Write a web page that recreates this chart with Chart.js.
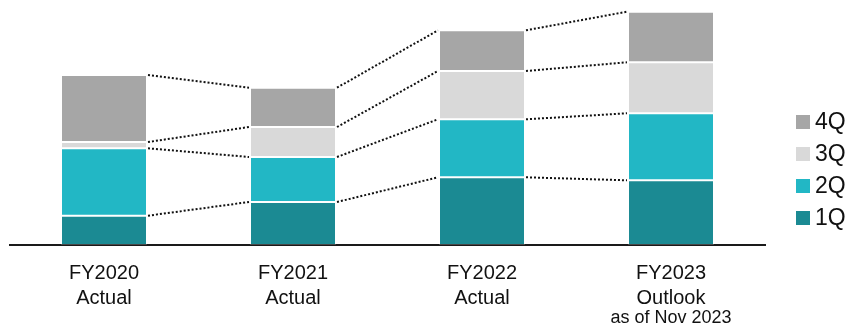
<!DOCTYPE html>
<html>
<head>
<meta charset="utf-8">
<script src="https://cdn.jsdelivr.net/npm/chart.js@4"></script>
<style>
  html, body { margin: 0; padding: 0; background: #fff; }
  #wrap { width: 852px; height: 325px; position: relative; }
</style>
</head>
<body>
<div id="wrap"><canvas id="c" width="852" height="325"></canvas></div>
<script>
// ---- data ----
const categories = [["FY2020", "Actual"], ["FY2021", "Actual"], ["FY2022", "Actual"], ["FY2023", "Outlook"]];
const categoryNotes = ["", "", "", "as of Nov 2023"];
const seriesNames = ["1Q", "2Q", "3Q", "4Q"];
const q1 = [29.3, 43.0, 67.7, 64.7];
const q2 = [67.4, 45.0, 58.0, 67.0];
const q3 = [6.3, 30.0, 48.3, 51.0];
const q4 = [67.0, 39.3, 40.7, 50.6];
const yMax = 240;

const colors = ["#1b8a93", "#22b7c5", "#d9d9d9", "#a6a6a6"];
const FONT = "'Liberation Sans', Arial, sans-serif";

const connectorPlugin = {
  id: 'connectors',
  afterDatasetsDraw(chart) {
    const ctx = chart.ctx;
    ctx.save();
    ctx.strokeStyle = '#111';
    ctx.lineWidth = 2;
    ctx.setLineDash([2, 2]);
    chart.data.datasets.forEach((ds, d) => {
      const els = chart.getDatasetMeta(d).data;
      for (let i = 0; i < els.length - 1; i++) {
        const a = els[i], b = els[i + 1];
        ctx.beginPath();
        ctx.moveTo(a.x + a.width / 2 + 1, a.y);
        ctx.lineTo(b.x - b.width / 2 - 1, b.y);
        ctx.stroke();
      }
    });
    ctx.restore();
  }
};

const legendPlugin = {
  id: 'sideLegend',
  afterDraw(chart) {
    const ctx = chart.ctx;
    ctx.save();
    ctx.font = "23px " + FONT;
    ctx.textBaseline = 'middle';
    ctx.textAlign = 'left';
    const order = [3, 2, 1, 0];
    order.forEach((d, k) => {
      const cy = 122 + k * 32;
      ctx.fillStyle = colors[d];
      ctx.fillRect(796, cy - 7, 14, 14);
      ctx.fillStyle = '#111';
      ctx.fillText(seriesNames[d], 815, cy + 1);
    });
    ctx.restore();
  }
};

const notePlugin = {
  id: 'notes',
  afterDraw(chart) {
    const ctx = chart.ctx;
    const xs = chart.scales.x;
    ctx.save();
    ctx.font = "18px " + FONT;
    ctx.fillStyle = '#111';
    ctx.textAlign = 'center';
    ctx.textBaseline = 'alphabetic';
    categoryNotes.forEach((n, i) => {
      if (n) ctx.fillText(n, xs.getPixelForValue(i), 323);
    });
    ctx.restore();
  }
};

new Chart(document.getElementById('c'), {
  type: 'bar',
  data: {
    labels: categories,
    datasets: [q1, q2, q3, q4].map((vals, d) => ({
      label: seriesNames[d],
      data: vals,
      backgroundColor: colors[d],
      borderColor: 'rgba(255,255,255,0.2)',
      borderWidth: 1,
      borderSkipped: false,
      barPercentage: 0.455,
      categoryPercentage: 1.0
    }))
  },
  options: {
    responsive: false,
    animation: false,
    devicePixelRatio: 1,
    layout: { padding: { left: 9.5, right: 86.5, top: 5, bottom: 0 } },
    plugins: { legend: { display: false }, tooltip: { enabled: false } },
    scales: {
      x: {
        stacked: true,
        offset: true,
        grid: { display: false, drawTicks: false },
        border: { display: true, color: '#1a1a1a', width: 2 },
        afterFit(scale) { scale.height = 80; },
        ticks: {
          color: '#111',
          padding: 15.5,
          font: { family: FONT, size: 20, lineHeight: 1.25 },
          maxRotation: 0,
          autoSkip: false
        }
      },
      y: {
        stacked: true,
        display: false,
        min: 0,
        max: yMax
      }
    }
  },
  plugins: [connectorPlugin, legendPlugin, notePlugin]
});
</script>
</body>
</html>
